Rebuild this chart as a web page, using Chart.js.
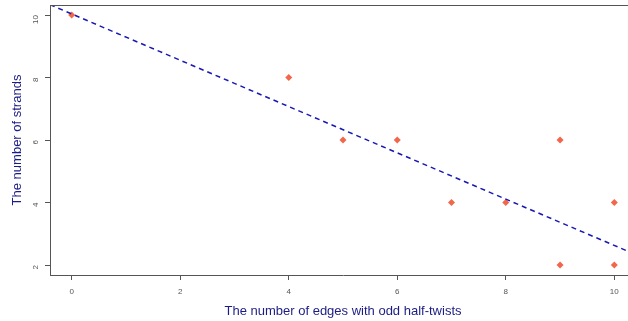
<!DOCTYPE html>
<html>
<head>
<meta charset="utf-8">
<script src="https://cdn.jsdelivr.net/npm/chart.js@4"></script>
<style>
html,body{margin:0;padding:0;overflow:hidden;background:#fff;width:628px;height:321px;}
#c{display:block;}
</style>
</head>
<body>
<canvas id="c" width="640" height="321"></canvas>
<script>
// Data
const edgesX = [0, 4, 5, 6, 7, 8, 9, 9, 10, 10];
const strandsY = [10, 8, 6, 6, 4, 4, 6, 2, 4, 2];
// Fitted dashed line end points
const fitX = [-0.4, 10.4];
const fitY = [10.33, 2.33];
// Axis ticks
const xTicks = [0, 2, 4, 6, 8, 10];
const yTicks = [2, 4, 6, 8, 10];
const xRange = [-0.4, 10.4];
const yRange = [1.68, 10.32];

const axisColor = '#555555';
const titleColor = '#1c1c85';

const topBorder = {
  id: 'topBorder',
  afterDraw(chart) {
    const {ctx, chartArea: a} = chart;
    ctx.save();
    ctx.strokeStyle = axisColor;
    ctx.lineWidth = 1;
    ctx.beginPath();
    ctx.moveTo(a.left, a.top + 0.5);
    ctx.lineTo(a.right, a.top + 0.5);
    ctx.stroke();
    ctx.restore();
  }
};

function noPad(s) {
  s.paddingTop = 0; s.paddingBottom = 0; s.paddingLeft = 0; s.paddingRight = 0;
}

new Chart(document.getElementById('c'), {
  type: 'scatter',
  data: {
    datasets: [
      {
        label: 'points',
        data: edgesX.map((x, i) => ({x: x, y: strandsY[i]})),
        pointStyle: 'rectRot',
        pointRadius: 3.5,
        backgroundColor: '#f4664a',
        borderColor: '#f4664a',
        borderWidth: 0,
        order: 1
      },
      {
        label: 'fit',
        type: 'line',
        data: fitX.map((x, i) => ({x: x, y: fitY[i]})),
        borderColor: '#1818b4',
        borderWidth: 1.5,
        borderDash: [5, 4],
        pointRadius: 0,
        fill: false,
        order: 0
      }
    ]
  },
  options: {
    responsive: false,
    animation: false,
    layout: {padding: {top: 5, right: 0, bottom: 0, left: 0}},
    plugins: {legend: {display: false}, tooltip: {enabled: false}},
    scales: {
      x: {
        type: 'linear',
        min: xRange[0], max: xRange[1],
        afterBuildTicks: s => { s.ticks = xTicks.map(v => ({value: v})); },
        afterFit: s => { s.height = 46; noPad(s); },
        border: {display: true, color: axisColor, width: 1},
        grid: {drawOnChartArea: false, drawTicks: true, tickLength: 5, color: axisColor},
        ticks: {color: '#555', font: {family: 'Liberation Sans, Arial', size: 8}, padding: 7, maxRotation: 0},
        title: {display: true, text: 'The number of edges with odd half-twists', color: titleColor,
          font: {family: 'Liberation Sans, Arial', size: 13}, padding: {top: 0, bottom: 2}}
      },
      y: {
        type: 'linear',
        min: yRange[0], max: yRange[1],
        afterBuildTicks: s => { s.ticks = yTicks.map(v => ({value: v})); },
        afterFit: s => { s.width = 50; noPad(s); },
        border: {display: true, color: axisColor, width: 1},
        grid: {drawOnChartArea: false, drawTicks: true, tickLength: 5, color: axisColor},
        ticks: {color: '#555', font: {family: 'Liberation Sans, Arial', size: 8}, padding: 9, minRotation: 90, maxRotation: 90},
        title: {display: true, text: 'The number of strands', color: titleColor,
          font: {family: 'Liberation Sans, Arial', size: 13}, padding: {top: 10, bottom: 0}}
      }
    }
  },
  plugins: [topBorder]
});
</script>
</body>
</html>
